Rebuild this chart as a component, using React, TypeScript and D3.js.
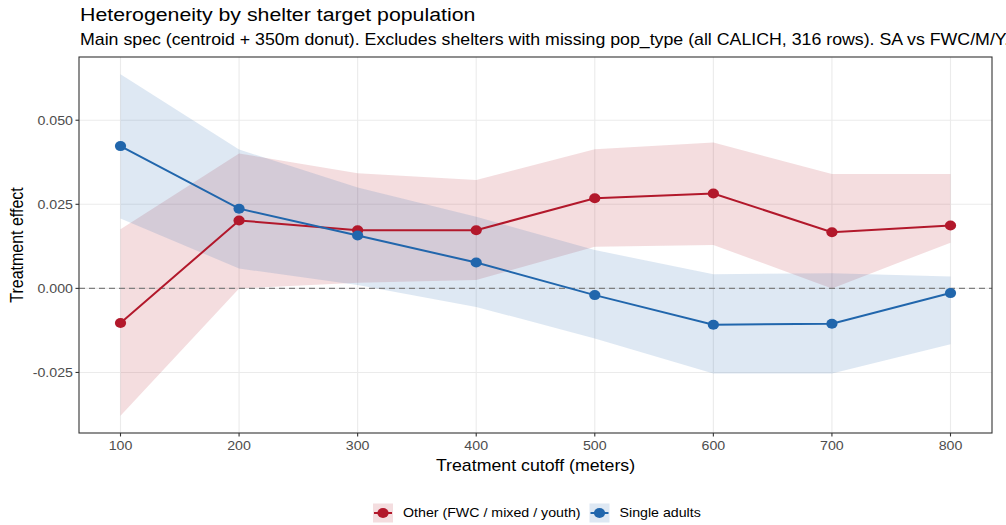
import React from "react";
import * as d3 from "d3";

const cutoffs = [100, 200, 300, 400, 500, 600, 700, 800];

const otherEst = [-0.0103, 0.0202, 0.0173, 0.0173, 0.0268, 0.0282, 0.0167, 0.0187];
const otherLo = [-0.0379, 0.0, 0.0017, 0.0025, 0.0124, 0.0129, 0.0, 0.0136];
const otherHi = [0.0176, 0.0401, 0.0342, 0.0322, 0.0414, 0.0434, 0.034, 0.034];

const singleEst = [0.0423, 0.0237, 0.0157, 0.0077, -0.002, -0.0108, -0.0105, -0.0014];
const singleLo = [0.0208, 0.0059, 0.001, -0.0055, -0.0149, -0.0253, -0.0253, -0.0166];
const singleHi = [0.0637, 0.0413, 0.03, 0.0213, 0.0114, 0.0042, 0.0045, 0.0035];

const yTicks = [-0.025, 0, 0.025, 0.05];
const xTicks = [100, 200, 300, 400, 500, 600, 700, 800];

const seriesNames = ["Other (FWC / mixed / youth)", "Single adults"];
const seriesColors = ["#B2182B", "#2166AC"];

const titleText = "Heterogeneity by shelter target population";
const subtitleText =
  "Main spec (centroid + 350m donut). Excludes shelters with missing pop_type (all CALICH, 316 rows). SA vs FWC/M/Y.";
const xTitle = "Treatment cutoff (meters)";
const yTitle = "Treatment effect";

const W = 1006;
const H = 525;
const panel = { left: 79, right: 992, top: 57, bottom: 433 };
const FONT = "'Liberation Sans', Arial, sans-serif";
const SX = 1.11;

function T(props: {
  x: number;
  y: number;
  size: number;
  anchor?: "start" | "middle" | "end";
  fill?: string;
  rotate?: number;
  dy?: string;
  children: React.ReactNode;
}) {
  const { x, y, size, anchor = "start", fill = "#000", rotate = 0, dy, children } = props;
  return (
    <text
      transform={`translate(${x},${y}) scale(${SX},1)${rotate ? ` rotate(${rotate})` : ""}`}
      x={0}
      y={0}
      dy={dy}
      fontSize={size}
      textAnchor={anchor}
      fill={fill}
    >
      {children}
    </text>
  );
}

const fmt = (t: number) => d3.format(".3f")(t).replace("\u2212", "-");

export default function App() {
  const x = d3.scaleLinear().domain([65, 835]).range([panel.left, panel.right]);
  const y = d3.scaleLinear().domain([-0.043, 0.0688]).range([panel.bottom, panel.top]);

  const series = [
    { name: seriesNames[0], color: seriesColors[0], est: otherEst, lo: otherLo, hi: otherHi },
    { name: seriesNames[1], color: seriesColors[1], est: singleEst, lo: singleLo, hi: singleHi },
  ];

  const idx = cutoffs.map((_, i) => i);

  const makeArea = (lo: number[], hi: number[]) =>
    d3
      .area<number>()
      .x((i) => x(cutoffs[i]))
      .y0((i) => y(lo[i]))
      .y1((i) => y(hi[i]))(idx) || "";

  const makeLine = (est: number[]) =>
    d3
      .line<number>()
      .x((i) => x(cutoffs[i]))
      .y((i) => y(est[i]))(idx) || "";

  const legendY = 513;
  const legendItems = [
    { boxX: 373, textX: 403 },
    { boxX: 589.5, textX: 619.5 },
  ];

  return (
    <svg
      width={W}
      height={H}
      style={{ display: "block", position: "absolute", left: 0, top: 0 }}
      fontFamily={FONT}
    >
      <rect x={0} y={0} width={W} height={H} fill="#ffffff" />
      <T x={80} y={21} size={19.2}>
        {titleText}
      </T>
      <T x={80} y={45} size={16}>
        {subtitleText}
      </T>

      <g>
        {yTicks.map((t) => (
          <line key={"gy" + t} x1={panel.left} x2={panel.right} y1={y(t)} y2={y(t)} stroke="#ebebeb" strokeWidth={1.1} />
        ))}
        {xTicks.map((t) => (
          <line key={"gx" + t} x1={x(t)} x2={x(t)} y1={panel.top} y2={panel.bottom} stroke="#ebebeb" strokeWidth={1.1} />
        ))}
      </g>

      {series.map((s) => (
        <path key={"r" + s.name} d={makeArea(s.lo, s.hi)} fill={s.color} fillOpacity={0.15} />
      ))}

      <line x1={panel.left} x2={panel.right} y1={y(0)} y2={y(0)} stroke="#7f7f7f" strokeWidth={1.1} strokeDasharray="6,4" />

      {series.map((s) => (
        <g key={"l" + s.name}>
          <path d={makeLine(s.est)} fill="none" stroke={s.color} strokeWidth={2} />
          {s.est.map((v, i) => (
            <ellipse key={i} cx={x(cutoffs[i])} cy={y(v)} rx={5.6} ry={5.0} fill={s.color} />
          ))}
        </g>
      ))}

      <rect
        x={panel.left}
        y={panel.top}
        width={panel.right - panel.left}
        height={panel.bottom - panel.top}
        fill="none"
        stroke="#333333"
        strokeWidth={1.1}
      />

      {yTicks.map((t) => (
        <g key={"ty" + t}>
          <line x1={panel.left - 3.5} x2={panel.left} y1={y(t)} y2={y(t)} stroke="#333333" strokeWidth={1.1} />
          <T x={panel.left - 6} y={y(t)} dy="0.35em" anchor="end" size={12.8} fill="#4d4d4d">
            {fmt(t)}
          </T>
        </g>
      ))}
      {xTicks.map((t) => (
        <g key={"tx" + t}>
          <line x1={x(t)} x2={x(t)} y1={panel.bottom} y2={panel.bottom + 3.5} stroke="#333333" strokeWidth={1.1} />
          <T x={x(t)} y={panel.bottom + 17} anchor="middle" size={12.8} fill="#4d4d4d">
            {t}
          </T>
        </g>
      ))}

      <T x={(panel.left + panel.right) / 2} y={471} anchor="middle" size={16}>
        {xTitle}
      </T>
      <T x={23} y={(panel.top + panel.bottom) / 2} anchor="middle" size={16} rotate={-90}>
        {yTitle}
      </T>

      {series.map((s, k) => {
        const it = legendItems[k];
        return (
          <g key={"lg" + s.name}>
            <rect x={it.boxX} y={legendY - 9.5} width={20} height={19} fill={s.color} fillOpacity={0.15} />
            <line x1={it.boxX + 1} x2={it.boxX + 19} y1={legendY} y2={legendY} stroke={s.color} strokeWidth={2} />
            <ellipse cx={it.boxX + 10} cy={legendY} rx={5.6} ry={5.0} fill={s.color} />
            <T x={it.textX} y={legendY} dy="0.35em" size={12.8}>
              {s.name}
            </T>
          </g>
        );
      })}
    </svg>
  );
}
